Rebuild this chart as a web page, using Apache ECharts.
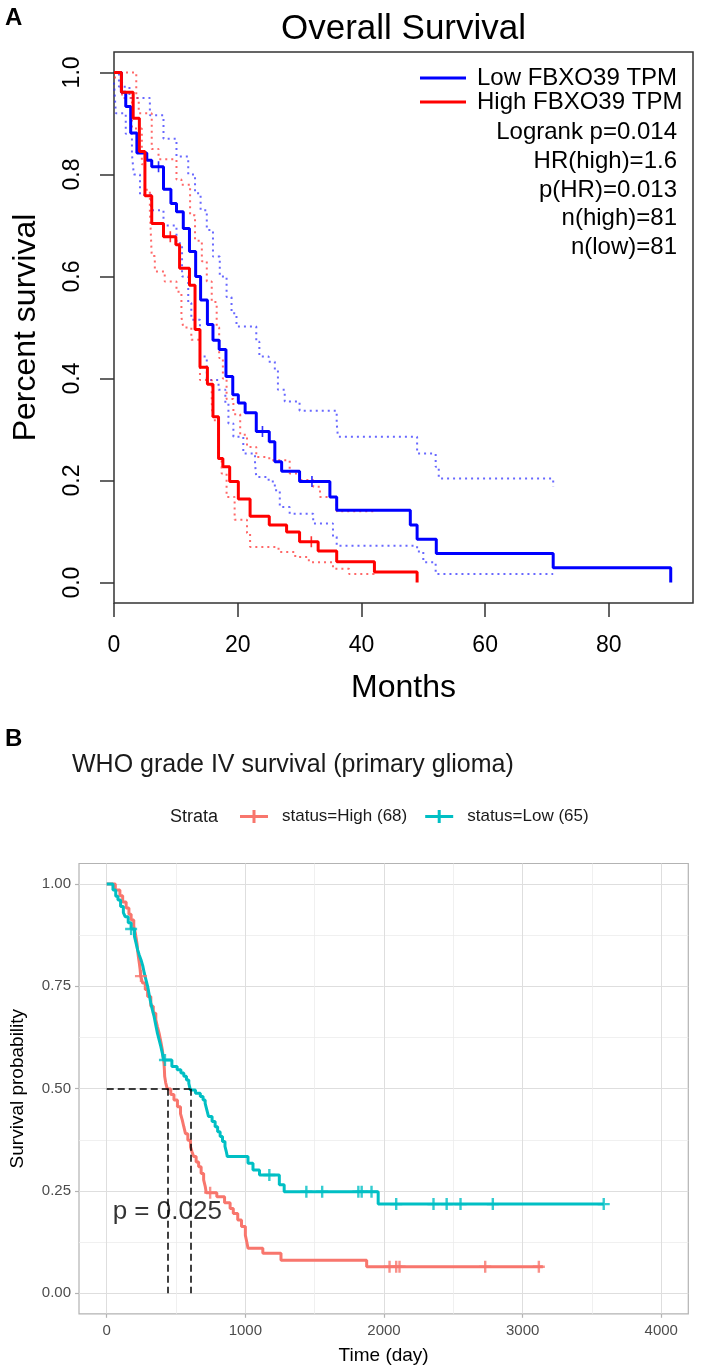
<!DOCTYPE html>
<html>
<head>
<meta charset="utf-8">
<script src="https://cdn.jsdelivr.net/npm/echarts@6/dist/echarts.min.js"></script>
<style>
  html, body { margin: 0; padding: 0; background: #fff; }
  #chart { width: 706px; height: 1367px; }
</style>
</head>
<body>
<div id="chart"></div>
<script>
// ---- panel A: GEPIA overall survival (months) ----
const monthTicks = [0, 20, 40, 60, 80]
const percentTicks = [0, 0.2, 0.4, 0.6, 0.8, 1.0]

// [month, survival after the drop]
const lowFbxo = [[0,1],[1.2,0.961],[1.9,0.933],[2.7,0.881],[3.7,0.842],[5.3,0.828],[6.1,0.815],[8.0,0.771],[9.2,0.743],[10.1,0.727],[11.2,0.694],[12.2,0.649],[13.2,0.600],[14.0,0.554],[15.1,0.506],[16.0,0.475],[17.0,0.457],[18.1,0.404],[19.2,0.368],[20.1,0.352],[21.2,0.333],[23.0,0.296],[25.1,0.276],[26.0,0.237],[27.1,0.218],[30.0,0.198],[34.9,0.168],[36.0,0.142],[47.9,0.113],[49.0,0.085],[52.1,0.057],[71.0,0.029],[90.0,0]]
const highFbxo = [[0,1],[1.2,0.961],[3.1,0.910],[4.1,0.845],[5.0,0.758],[6.1,0.704],[8.0,0.678],[10.0,0.662],[10.6,0.616],[12.2,0.583],[13.1,0.496],[13.9,0.422],[15.1,0.389],[16.0,0.325],[16.9,0.243],[17.6,0.227],[18.7,0.198],[20.1,0.164],[22.0,0.130],[25.1,0.113],[27.9,0.099],[30.0,0.080],[33.0,0.062],[36.0,0.041],[42.1,0.021],[49.0,0]]
const lowUpper = [[0,1],[0.8,0.972],[2.5,0.95],[5.8,0.916],[8.0,0.87],[10.1,0.835],[12.0,0.80],[13.1,0.763],[14.0,0.730],[15.0,0.691],[16.0,0.639],[17.1,0.600],[18.2,0.56],[19.0,0.528],[19.8,0.502],[23.0,0.472],[23.5,0.443],[25.0,0.433],[26.0,0.417],[26.5,0.378],[27.6,0.355],[30.0,0.337],[36.0,0.312],[36.2,0.286],[49.0,0.253],[52.0,0.227],[52.5,0.204],[71.0,0.188]]
const lowLower = [[0,0.98],[0.3,0.92],[1.9,0.88],[2.9,0.84],[3.2,0.80],[4.2,0.76],[6.0,0.73],[8.0,0.70],[10.1,0.665],[11.0,0.60],[12.0,0.548],[12.5,0.515],[13.9,0.443],[15.0,0.397],[16.9,0.378],[18.0,0.352],[18.5,0.312],[19.3,0.286],[20.9,0.253],[22.8,0.233],[23.0,0.207],[25.0,0.198],[26.0,0.181],[26.8,0.148],[28.4,0.135],[32.2,0.116],[35.4,0.09],[36.0,0.072],[49.0,0.061],[50.0,0.04],[52.0,0.017],[71.0,0.017]]
const highUpper = [[0,1],[3.6,0.95],[4.0,0.92],[6.1,0.85],[7.2,0.83],[10.1,0.79],[10.9,0.78],[12.3,0.72],[13.1,0.67],[14.2,0.63],[15.0,0.59],[15.8,0.55],[16.6,0.50],[17.0,0.44],[17.6,0.40],[18.2,0.36],[19.3,0.33],[20.4,0.29],[21.5,0.266],[23.0,0.246],[25.1,0.24],[28.4,0.214],[30.0,0.201],[32.2,0.188],[33.3,0.168],[36.0,0.14],[42.0,0.14]]
const highLower = [[0,0.99],[1.3,0.95],[2.9,0.89],[4.5,0.82],[5.0,0.77],[5.8,0.73],[6.1,0.64],[6.6,0.61],[8.2,0.59],[10.1,0.57],[10.9,0.52],[11.2,0.50],[12.5,0.476],[13.9,0.397],[15.8,0.352],[16.0,0.318],[16.9,0.24],[17.4,0.214],[18.2,0.168],[19.5,0.123],[21.5,0.097],[22.0,0.07],[26.6,0.06],[29.3,0.05],[31.5,0.04],[35.4,0.027],[38.0,0.017],[42.0,0.011]]
const lowCensorA = [[7.2,0.815],[24.0,0.296],[32.0,0.198]]
const highCensorA = [[9.1,0.678],[31.9,0.080]]
const statsA = ['Logrank p=0.014', 'HR(high)=1.6', 'p(HR)=0.013', 'n(high)=81', 'n(low)=81']

// ---- panel B: WHO grade IV (days) ----
const dayTicks = [0, 1000, 2000, 3000, 4000]
const dayMinor = [500, 1500, 2500, 3500]
const probTicks = [0, 0.25, 0.5, 0.75, 1.0]
const probMinor = [0.125, 0.375, 0.625, 0.875]

const highStatus = [[0,1],[62,0.985],[95,0.971],[115,0.956],[140,0.941],[160,0.926],[176,0.912],[195,0.897],[205,0.882],[212,0.868],[219,0.853],[222,0.839],[228,0.823],[235,0.807],[241,0.791],[245,0.775],[259,0.758],[278,0.742],[295,0.725],[318,0.701],[336,0.684],[354,0.668],[366,0.651],[378,0.635],[390,0.615],[401,0.595],[407,0.578],[413,0.562],[416,0.546],[418,0.530],[425,0.515],[437,0.499],[462,0.486],[485,0.472],[510,0.456],[532,0.439],[545,0.423],[556,0.407],[568,0.390],[585,0.374],[604,0.358],[615,0.346],[627,0.334],[645,0.321],[663,0.309],[681,0.293],[699,0.277],[710,0.262],[718,0.246],[794,0.236],[850,0.221],[890,0.207],[913,0.195],[945,0.179],[972,0.163],[1000,0.142],[1010,0.126],[1019,0.110],[1126,0.098],[1257,0.081],[1875,0.065],[3146,0.065]]
const lowStatus = [[0,1],[45,0.985],[65,0.97],[81,0.961],[100,0.945],[120,0.93],[133,0.92],[155,0.905],[176,0.89],[200,0.872],[212,0.855],[223,0.839],[235,0.826],[247,0.815],[260,0.80],[271,0.782],[283,0.766],[295,0.750],[306,0.73],[318,0.709],[330,0.692],[342,0.676],[354,0.655],[366,0.635],[378,0.619],[390,0.603],[401,0.587],[410,0.570],[470,0.554],[508,0.546],[535,0.538],[556,0.530],[575,0.521],[592,0.513],[603,0.497],[640,0.489],[675,0.481],[695,0.472],[710,0.464],[722,0.448],[734,0.432],[760,0.42],[782,0.407],[800,0.395],[818,0.383],[835,0.371],[853,0.359],[862,0.347],[870,0.334],[1019,0.318],[1055,0.301],[1102,0.289],[1245,0.265],[1280,0.248],[1958,0.218],[3585,0.218]]
const highCensorB = [[247,0.775],[746,0.246],[2040,0.065],[2088,0.065],[2112,0.065],[2730,0.065],[3117,0.065]]
const lowCensorB = [[176,0.89],[420,0.570],[1173,0.289],[1440,0.248],[1554,0.248],[1815,0.248],[1839,0.248],[1910,0.248],[2088,0.218],[2357,0.218],[2452,0.218],[2552,0.218],[2785,0.218],[3585,0.218]]
const medianDays = [437, 603]
const pValue = [[43, 0.2]]

const FONT = 'Liberation Sans, Arial, sans-serif'
const plusThin = 'path://M4.25,0H5.75V10H4.25Z M0,4.25H10V5.75H0Z'
const plusBold = 'path://M4,0H6V10H4Z M0,4H10V6H0Z'
const keyIcon = 'path://M0,5H28V8H0Z M12.5,0H15.5V13H12.5Z'

const chart = echarts.init(document.getElementById('chart'))

const kmLine = (name, data, color, width, xi, dotted) => ({
  name, type: 'line', step: 'end', data, xAxisIndex: xi, yAxisIndex: xi === 0 ? 0 : 1,
  showSymbol: false, symbol: 'none', silent: true,
  itemStyle: { color },
  lineStyle: { color, width, type: dotted ? [2, 4] : 'solid' },
})

const censor = (name, data, color, symbol, size, xi) => ({
  name, type: 'scatter', data, xAxisIndex: xi, yAxisIndex: xi === 0 ? 0 : 1,
  symbol, symbolSize: size, itemStyle: { color }, silent: true, z: 3,
})

const medianSegs = [
  [[0, 0.5], [medianDays[1], 0.5]],
  ...medianDays.map((d) => [[d, 0.5], [d, 0]]),
]

chart.setOption({
  animation: false,
  textStyle: { fontFamily: FONT },
  title: [
    { text: 'A', left: 5, top: 6, padding: 0, textStyle: { fontSize: 24, fontWeight: 'bold', color: '#000' } },
    { text: 'Overall Survival', left: 403.5, top: 12, padding: 0, textAlign: 'center', textStyle: { fontSize: 35, fontWeight: 'normal', color: '#000' } },
    { text: 'B', left: 5, top: 727, padding: 0, textStyle: { fontSize: 24, fontWeight: 'bold', color: '#000' } },
    { text: 'WHO grade IV survival (primary glioma)', left: 72, top: 753, padding: 0, textStyle: { fontSize: 25, fontWeight: 'normal', color: '#1a1a1a' } },
  ],
  legend: [
    {
      data: ['Low FBXO39 TPM', 'High FBXO39 TPM'],
      orient: 'vertical', left: 420, top: 66, padding: 0, itemGap: 0,
      itemWidth: 46, itemHeight: 3, icon: 'rect', selectedMode: false,
      textStyle: { fontSize: 24, color: '#000', lineHeight: 23, padding: [0, 0, 0, 6] },
    },
    {
      data: ['status=High (68)', 'status=Low (65)'],
      orient: 'horizontal', left: 240, top: 808, padding: 0, itemGap: 18,
      itemWidth: 28, itemHeight: 13, icon: keyIcon, selectedMode: false,
      textStyle: { fontSize: 17, color: '#1a1a1a', padding: [0, 0, 0, 9] },
    },
  ],
  graphic: [
    {
      type: 'text', x: 677, y: 118,
      style: { text: statsA.join('\n'), fill: '#000', font: '24px ' + FONT, align: 'right', verticalAlign: 'top', lineHeight: 28.75 },
    },
    {
      type: 'text', x: 170, y: 817,
      style: { text: 'Strata', fill: '#1a1a1a', font: '18px ' + FONT, align: 'left', verticalAlign: 'middle' },
    },
  ],
  grid: [
    { left: 114, top: 52, width: 579, height: 551, show: true, borderColor: '#333', borderWidth: 1.5, backgroundColor: 'transparent' },
    { left: 74.3, top: 863.5, width: 614, height: 450.3, show: true, borderColor: '#b3b3b3', borderWidth: 1.2, backgroundColor: 'transparent' },
  ],
  xAxis: [
    {
      type: 'value', gridIndex: 0, min: 0, max: 93.6,
      axisLine: { show: false, onZero: false },
      axisTick: { show: true, length: 14, customValues: monthTicks, lineStyle: { color: '#333', width: 1.5 } },
      axisLabel: { customValues: monthTicks, fontSize: 23, color: '#000', margin: 31 },
      splitLine: { show: false },
      name: 'Months', nameLocation: 'middle', nameGap: 69,
      nameTextStyle: { fontSize: 32, color: '#000' },
    },
    {
      type: 'value', gridIndex: 1, min: -200, max: 4195,
      axisLine: { show: false, onZero: false },
      axisTick: { show: true, length: 4, customValues: dayTicks, lineStyle: { color: '#b3b3b3', width: 1.2 } },
      axisLabel: { customValues: dayTicks, fontSize: 15, color: '#4d4d4d', margin: 10, formatter: (v) => String(v) },
      splitLine: { show: true, lineStyle: { color: '#dedede', width: 1 } },
      name: 'Time (day)', nameLocation: 'middle', nameGap: 32,
      nameTextStyle: { fontSize: 19, color: '#000' },
    },
    {
      type: 'value', gridIndex: 1, min: -200, max: 4195,
      axisLine: { show: false, onZero: false },
      axisTick: { show: false, customValues: dayMinor },
      axisLabel: { show: false, customValues: dayMinor },
      splitLine: { show: true, lineStyle: { color: '#ececec', width: 0.8 } },
    },
  ],
  yAxis: [
    {
      type: 'value', gridIndex: 0, min: -0.04, max: 1.04,
      axisLine: { show: false, onZero: false },
      axisTick: { show: true, length: 14, customValues: percentTicks, lineStyle: { color: '#333', width: 1.5 } },
      axisLabel: { customValues: percentTicks, fontSize: 23, color: '#000', margin: 30, rotate: 90, formatter: (v) => v.toFixed(1) },
      splitLine: { show: false },
      name: 'Percent survival', nameLocation: 'middle', nameGap: 72,
      nameTextStyle: { fontSize: 32, color: '#000' },
    },
    {
      type: 'value', gridIndex: 1, min: -0.05, max: 1.05,
      axisLine: { show: false, onZero: false },
      axisTick: { show: true, length: 4, customValues: probTicks, lineStyle: { color: '#b3b3b3', width: 1.2 } },
      axisLabel: { customValues: probTicks, fontSize: 15, color: '#4d4d4d', margin: 8, formatter: (v) => v.toFixed(2) },
      splitLine: { show: true, lineStyle: { color: '#dedede', width: 1 } },
      name: 'Survival probability', nameLocation: 'middle', nameGap: 52,
      nameTextStyle: { fontSize: 19, color: '#000' },
    },
    {
      type: 'value', gridIndex: 1, min: -0.05, max: 1.05,
      axisLine: { show: false, onZero: false },
      axisTick: { show: false, customValues: probMinor },
      axisLabel: { show: false, customValues: probMinor },
      splitLine: { show: true, lineStyle: { color: '#ececec', width: 0.8 } },
    },
  ],
  series: [
    // panel A
    kmLine('lowUpper', lowUpper, 'rgba(40,40,255,0.7)', 2, 0, true),
    kmLine('lowLower', lowLower, 'rgba(40,40,255,0.7)', 2, 0, true),
    kmLine('highUpper', highUpper, 'rgba(255,40,40,0.7)', 2, 0, true),
    kmLine('highLower', highLower, 'rgba(255,40,40,0.7)', 2, 0, true),
    kmLine('Low FBXO39 TPM', lowFbxo, '#0000ff', 3, 0, false),
    kmLine('High FBXO39 TPM', highFbxo, '#ff0000', 3, 0, false),
    censor('lowCensorA', lowCensorA, '#0000ff', plusThin, 11, 0),
    censor('highCensorA', highCensorA, '#ff0000', plusThin, 11, 0),
    // panel B
    kmLine('status=High (68)', highStatus, '#F8766D', 3, 1, false),
    kmLine('status=Low (65)', lowStatus, '#00BFC4', 3, 1, false),
    censor('highCensorB', highCensorB, '#F8766D', plusBold, 12, 1),
    censor('lowCensorB', lowCensorB, '#00BFC4', plusBold, 12, 1),
    {
      name: 'median', type: 'lines', coordinateSystem: 'cartesian2d', xAxisIndex: 1, yAxisIndex: 1,
      data: medianSegs.map((coords) => ({ coords })), silent: true, z: 4,
      lineStyle: { color: '#000', width: 1.5, type: [7, 4], opacity: 1 },
    },
    {
      name: 'pval', type: 'scatter', xAxisIndex: 1, yAxisIndex: 1, data: pValue,
      symbolSize: 0, silent: true, z: 5,
      label: { show: true, position: 'right', distance: 0, formatter: 'p = 0.025', fontSize: 26, color: '#000' },
    },
  ],
})
</script>
</body>
</html>
